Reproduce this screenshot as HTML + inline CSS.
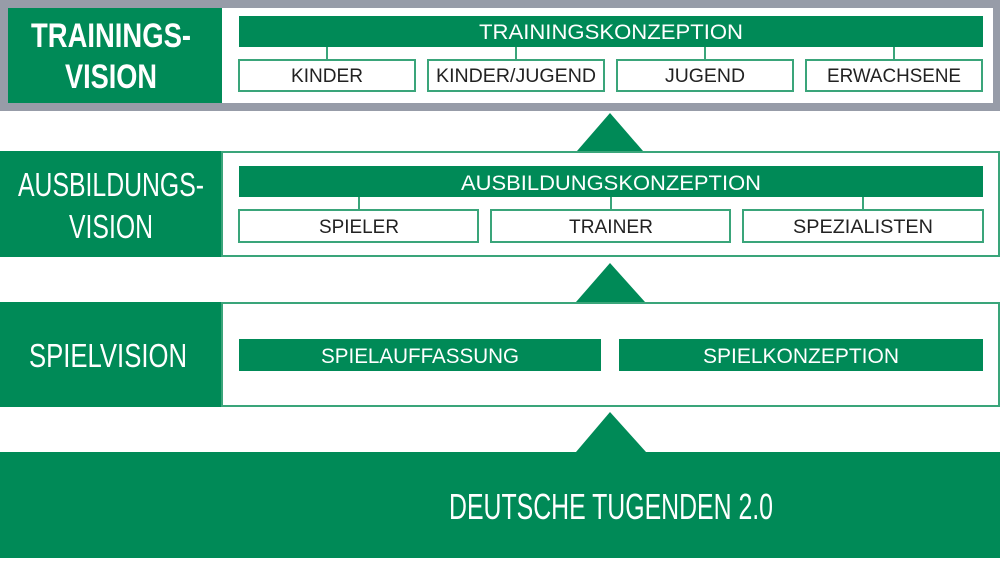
<!DOCTYPE html>
<html><head><meta charset="utf-8"><style>
html,body{margin:0;padding:0;background:#fff}
svg{display:block}
text{font-family:"Liberation Sans Narrow","Liberation Sans",sans-serif}
</style></head><body>
<svg width="1000" height="563" viewBox="0 0 1000 563" xmlns="http://www.w3.org/2000/svg">
<g fill="#008a57">
<rect x="0" y="0" width="1000" height="111" fill="#979ca8"/>
<rect x="8" y="8" width="985" height="95" fill="#fff"/>
<rect x="8" y="8" width="214" height="95"/>
<rect x="239" y="16" width="744" height="31"/>
<g stroke="#3aa57a" stroke-width="2" fill="#fff">
<line x1="327" y1="47" x2="327" y2="60"/><line x1="516" y1="47" x2="516" y2="60"/>
<line x1="705" y1="47" x2="705" y2="60"/><line x1="894" y1="47" x2="894" y2="60"/>
<rect x="239" y="60" width="176" height="31"/><rect x="428" y="60" width="176" height="31"/>
<rect x="617" y="60" width="176" height="31"/><rect x="806" y="60" width="176" height="31"/>
</g>
<polygon points="610,113 577,151 643,151"/>
<rect x="0" y="151" width="222" height="106"/>
<rect x="222" y="152" width="777" height="104" fill="#fff" stroke="#3aa57a" stroke-width="2"/>
<rect x="239" y="166" width="744" height="31"/>
<g stroke="#3aa57a" stroke-width="2" fill="#fff">
<line x1="359" y1="197" x2="359" y2="210"/><line x1="611" y1="197" x2="611" y2="210"/><line x1="863" y1="197" x2="863" y2="210"/>
<rect x="239" y="210" width="239" height="32"/><rect x="491" y="210" width="239" height="32"/><rect x="743" y="210" width="240" height="32"/>
</g>
<polygon points="610,263 576,302 645,302"/>
<rect x="0" y="302" width="222" height="105"/>
<rect x="222" y="303" width="777" height="103" fill="#fff" stroke="#3aa57a" stroke-width="2"/>
<rect x="239" y="339" width="362" height="32"/>
<rect x="619" y="339" width="364" height="32"/>
<polygon points="610,412 576,452 646,452"/>
<rect x="0" y="452" width="1000" height="106"/>
</g>
<g fill="#fff" text-anchor="middle">
<text x="111" y="47" font-size="34" font-weight="bold" textLength="160" lengthAdjust="spacingAndGlyphs">TRAININGS-</text>
<text x="111" y="88" font-size="34" font-weight="bold" textLength="92" lengthAdjust="spacingAndGlyphs">VISION</text>
<text x="111" y="196" font-size="33" textLength="186" lengthAdjust="spacingAndGlyphs">AUSBILDUNGS-</text>
<text x="111" y="238" font-size="33" textLength="84" lengthAdjust="spacingAndGlyphs">VISION</text>
<text x="108" y="367" font-size="33" textLength="158" lengthAdjust="spacingAndGlyphs">SPIELVISION</text>
<text x="611" y="39" font-size="21" textLength="264" lengthAdjust="spacingAndGlyphs">TRAININGSKONZEPTION</text>
<text x="611" y="190" font-size="21" textLength="300" lengthAdjust="spacingAndGlyphs">AUSBILDUNGSKONZEPTION</text>
<text x="420" y="363" font-size="21" textLength="198" lengthAdjust="spacingAndGlyphs">SPIELAUFFASSUNG</text>
<text x="801" y="363" font-size="21" textLength="196" lengthAdjust="spacingAndGlyphs">SPIELKONZEPTION</text>
<text x="611" y="519" font-size="36" textLength="324" lengthAdjust="spacingAndGlyphs">DEUTSCHE TUGENDEN 2.0</text>
</g>
<g fill="#222" text-anchor="middle" font-size="19">
<text x="327" y="82" textLength="72" lengthAdjust="spacingAndGlyphs">KINDER</text>
<text x="516" y="82" textLength="160" lengthAdjust="spacingAndGlyphs">KINDER/JUGEND</text>
<text x="705" y="82" textLength="80" lengthAdjust="spacingAndGlyphs">JUGEND</text>
<text x="894" y="82" textLength="134" lengthAdjust="spacingAndGlyphs">ERWACHSENE</text>
<text x="359" y="233" textLength="80" lengthAdjust="spacingAndGlyphs">SPIELER</text>
<text x="611" y="233" textLength="84" lengthAdjust="spacingAndGlyphs">TRAINER</text>
<text x="863" y="233" textLength="140" lengthAdjust="spacingAndGlyphs">SPEZIALISTEN</text>
</g>
</svg>
</body></html>
